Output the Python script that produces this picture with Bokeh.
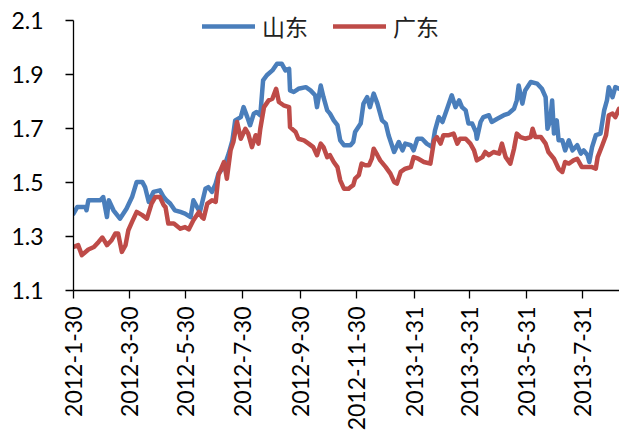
import pandas as pd
from bokeh.plotting import figure
from bokeh.models import Range1d, FixedTicker, Legend, LegendItem
from bokeh.embed import file_html
from bokeh.resources import INLINE

start_date = "2012-01-30"
end_day = 587.5

shandong_day = [0,4,13,14,16,29,32,36,38,43,50,57,63,68,74,77,81,86,93,97,100,104,109,115,120,126,129,133,136,142,145,149,153,156,162,167,171,174,180,183,187,190,194,197,201,204,208,214,219,224,228,232,233,237,242,250,255,260,262,266,269,273,276,280,284,287,291,296,298,301,303,309,312,316,319,323,327,332,336,339,345,350,354,357,363,366,370,375,380,386,389,393,397,402,407,411,415,418,422,425,429,433,434,438,441,447,450,456,463,468,474,477,479,483,486,492,499,504,508,510,513,515,517,520,522,526,529,533,537,542,546,549,553,555,558,562,567,571,574,576,580,583,587]
shandong_val = [1.385,1.409,1.409,1.397,1.434,1.434,1.446,1.372,1.434,1.397,1.366,1.403,1.446,1.502,1.502,1.483,1.428,1.465,1.471,1.446,1.434,1.422,1.397,1.391,1.385,1.372,1.434,1.409,1.391,1.477,1.483,1.465,1.496,1.533,1.557,1.607,1.656,1.730,1.742,1.779,1.742,1.712,1.755,1.761,1.749,1.878,1.897,1.915,1.940,1.940,1.915,1.921,1.841,1.835,1.847,1.853,1.841,1.823,1.779,1.859,1.816,1.767,1.755,1.730,1.712,1.656,1.638,1.638,1.638,1.650,1.687,1.718,1.792,1.816,1.779,1.829,1.792,1.730,1.718,1.675,1.613,1.650,1.619,1.644,1.638,1.619,1.662,1.662,1.644,1.631,1.693,1.742,1.724,1.773,1.823,1.779,1.804,1.779,1.767,1.718,1.718,1.687,1.662,1.724,1.742,1.749,1.724,1.736,1.749,1.755,1.773,1.804,1.859,1.792,1.841,1.872,1.866,1.847,1.816,1.699,1.730,1.804,1.681,1.730,1.656,1.656,1.619,1.656,1.619,1.638,1.607,1.619,1.601,1.576,1.631,1.675,1.681,1.767,1.804,1.853,1.816,1.853,1.847]

guangdong_day = [0,5,9,16,22,27,31,34,36,41,45,48,52,56,59,63,68,74,79,84,88,93,97,99,102,108,115,120,124,129,135,138,140,144,149,153,156,162,165,169,172,176,180,185,188,192,196,199,201,205,210,214,218,221,226,232,233,239,242,248,253,258,262,266,269,273,276,280,284,287,291,296,298,301,303,307,310,314,318,321,323,327,330,336,341,345,348,352,357,363,366,371,377,384,388,391,395,398,404,409,413,416,422,427,431,434,440,443,447,452,458,461,465,470,474,477,481,486,492,494,497,503,508,511,517,522,526,529,533,538,542,547,553,558,562,564,569,573,576,580,583,587]
guangdong_val = [1.261,1.268,1.231,1.252,1.261,1.280,1.296,1.280,1.268,1.286,1.311,1.311,1.243,1.268,1.323,1.354,1.391,1.379,1.366,1.422,1.446,1.446,1.416,1.409,1.348,1.348,1.329,1.335,1.326,1.360,1.391,1.372,1.366,1.422,1.434,1.428,1.527,1.576,1.514,1.619,1.650,1.724,1.662,1.699,1.681,1.631,1.675,1.644,1.699,1.779,1.804,1.810,1.847,1.798,1.786,1.779,1.705,1.687,1.662,1.656,1.644,1.631,1.601,1.644,1.631,1.594,1.601,1.576,1.557,1.508,1.477,1.477,1.483,1.490,1.514,1.527,1.570,1.564,1.564,1.588,1.625,1.601,1.582,1.557,1.533,1.502,1.496,1.539,1.551,1.557,1.594,1.588,1.576,1.570,1.656,1.668,1.644,1.675,1.675,1.681,1.644,1.662,1.662,1.644,1.619,1.582,1.594,1.613,1.601,1.613,1.607,1.644,1.594,1.570,1.625,1.681,1.668,1.662,1.668,1.699,1.668,1.668,1.644,1.613,1.588,1.551,1.539,1.576,1.570,1.582,1.588,1.557,1.557,1.557,1.551,1.594,1.638,1.675,1.749,1.755,1.742,1.773]

tick_dates = ["2012-01-30","2012-03-30","2012-05-30","2012-07-30","2012-09-30",
              "2012-11-30","2013-01-31","2013-03-31","2013-05-31","2013-07-31"]
tick_labels = ["2012-1-30","2012-3-30","2012-5-30","2012-7-30","2012-9-30",
               "2012-11-30","2013-1-31","2013-3-31","2013-5-31","2013-7-31"]
y_ticks = [1.1, 1.3, 1.5, 1.7, 1.9, 2.1]
y_min, y_max = 1.1, 2.1

series_names = ["山东", "广东"]
colors = ["#4A7EBB", "#BE4B48"]

start = pd.Timestamp(start_date)
sd_x = start + pd.to_timedelta(shandong_day, unit="D")
gd_x = start + pd.to_timedelta(guangdong_day, unit="D")

W, H = 619, 434
frame_bottom = 290.5  # px from top
top_gap = 20          # px between canvas top and the 2.1 tick
y_top = y_max + (y_max - y_min) * top_gap / (frame_bottom - top_gap)

p = figure(width=W, height=H, x_axis_type="datetime", output_backend="svg",
           toolbar_location=None,
           x_range=Range1d(start, start + pd.Timedelta(days=end_day)),
           y_range=Range1d(y_min, y_top),
           min_border_left=73, min_border_top=0, min_border_right=0,
           min_border_bottom=int(round(H - frame_bottom)))
p.outline_line_color = None
p.xgrid.visible = False
p.ygrid.visible = False
p.background_fill_color = "white"

r1 = p.line(sd_x, shandong_val, line_color=colors[0], line_width=4.5,
            line_join="round", line_cap="round")
r2 = p.line(gd_x, guangdong_val, line_color=colors[1], line_width=4.5,
            line_join="round", line_cap="round")

tick_ms = [pd.Timestamp(d).value / 1e6 for d in tick_dates]
xa = p.xaxis[0]
xa.ticker = FixedTicker(ticks=tick_ms)
xa.major_label_overrides = {t: l for t, l in zip(tick_ms, tick_labels)}
xa.major_label_orientation = 3.14159265 / 2
ya = p.yaxis[0]
ya.ticker = FixedTicker(ticks=y_ticks)
ya.major_label_overrides = {t: f"{t:.1f}" for t in y_ticks}
ya.bounds = (y_min, y_max)

for ax in (xa, ya):
    ax.axis_line_color = "black"
    ax.axis_line_width = 1.3
    ax.major_tick_line_color = "black"
    ax.major_tick_line_width = 1.3
    ax.major_tick_in = 0
    ax.major_tick_out = 8
    ax.minor_tick_line_color = None
    ax.major_label_text_font = "Lato"
    ax.major_label_text_font_size = "23px"
    ax.major_label_text_color = "black"
xa.major_label_standoff = 8
ya.major_label_standoff = 22

legend = Legend(items=[LegendItem(label=series_names[0], renderers=[r1]),
                       LegendItem(label=series_names[1], renderers=[r2])],
                orientation="horizontal", location=(129, 247),
                glyph_width=53, glyph_height=22, label_height=22,
                label_standoff=7, spacing=25, padding=0, margin=0,
                border_line_alpha=0, background_fill_alpha=0,
                label_text_font="Noto Sans CJK SC", label_text_font_size="23px",
                label_text_color="#222222")
p.add_layout(legend)

open("out.html", "w").write(file_html(p, INLINE))
